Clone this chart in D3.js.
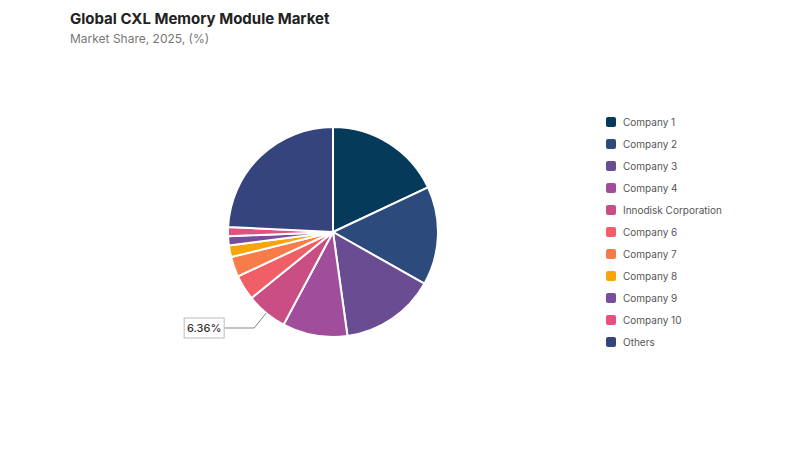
<!DOCTYPE html>
<html>
<head>
<meta charset="utf-8">
<script src="https://cdn.jsdelivr.net/npm/d3@7"></script>
<style>
  body { margin: 0; background: #fff; }
  svg { font-family: Inter, "Noto Sans", sans-serif; }
</style>
</head>
<body>
<svg id="chart"></svg>
<script>
// values
var companies = ["Company 1", "Company 2", "Company 3", "Company 4", "Innodisk Corporation",
  "Company 6", "Company 7", "Company 8", "Company 9", "Company 10", "Others"];
var shares = [18.0, 15.2, 14.6, 10.0, 6.36, 3.9, 3.1, 1.8, 1.4, 1.4, 24.24];
var colors = ["#053a5a", "#2d4a7c", "#6a4c93", "#a04d9c", "#c94e84", "#f05e68",
  "#f77c4a", "#f6a50b", "#774d9d", "#e5507f", "#35447c"];
var labelled = ["Innodisk Corporation"];

var screen = {width: 800, height: 450};
var center = {x: 333, y: 232};
var radius = 105;

var svg = d3.select("#chart")
  .attr("width", screen.width)
  .attr("height", screen.height);

svg.append("text")
  .attr("x", 70).attr("y", 24)
  .attr("font-size", 15).attr("font-weight", 700).attr("fill", "#222")
  .text("Global CXL Memory Module Market");

svg.append("text")
  .attr("x", 70).attr("y", 43)
  .attr("font-size", 12).attr("fill", "#777")
  .text("Market Share, 2025, (%)");

var data = companies.map(function (c, i) { return {name: c, value: shares[i]}; });

var color = d3.scaleOrdinal().domain(companies).range(colors);

var pie = d3.pie().sort(null).value(function (d) { return d.value; });
var arc = d3.arc().innerRadius(0).outerRadius(radius);

var g = svg.append("g")
  .attr("transform", "translate(" + center.x + "," + center.y + ")");

var arcs = pie(data);

g.selectAll("path")
  .data(arcs)
  .enter()
  .append("path")
  .attr("d", arc)
  .attr("fill", function (d) { return color(d.data.name); })
  .attr("stroke", "#fff")
  .attr("stroke-width", 2);

// callout label
arcs.filter(function (d) { return labelled.indexOf(d.data.name) >= 0; })
  .forEach(function (d) {
    var mid = (d.startAngle + d.endAngle) / 2;
    var p0 = [Math.sin(mid) * radius, -Math.cos(mid) * radius];
    var p1 = [p0[0] - 12, p0[1] + 15];
    var p2 = [p1[0] - 30, p1[1]];
    g.append("polyline")
      .attr("points", [p0, p1, p2].map(function (p) { return p.join(","); }).join(" "))
      .attr("fill", "none")
      .attr("stroke", "#888")
      .attr("stroke-width", 1);
    var bw = 40, bh = 20;
    g.append("rect")
      .attr("x", p2[0] - bw).attr("y", p2[1] - bh / 2)
      .attr("width", bw).attr("height", bh)
      .attr("fill", "#fff")
      .attr("stroke", "#bbb");
    g.append("text")
      .attr("x", p2[0] - bw / 2).attr("y", p2[1] + 4)
      .attr("text-anchor", "middle")
      .attr("font-size", 11).attr("font-weight", 500).attr("fill", "#333")
      .text(d3.format(".2f")(d.data.value) + "%");
  });

// legend
var legend = svg.append("g").attr("transform", "translate(606,117)");
var item = legend.selectAll("g")
  .data(companies)
  .enter()
  .append("g")
  .attr("transform", function (d, i) { return "translate(0," + (i * 22) + ")"; });

item.append("rect")
  .attr("width", 10).attr("height", 10)
  .attr("rx", 2)
  .attr("fill", function (d) { return color(d); });

item.append("text")
  .attr("x", 17).attr("y", 9)
  .attr("font-size", 10).attr("fill", "#555")
  .text(function (d) { return d; });
</script>
</body>
</html>
